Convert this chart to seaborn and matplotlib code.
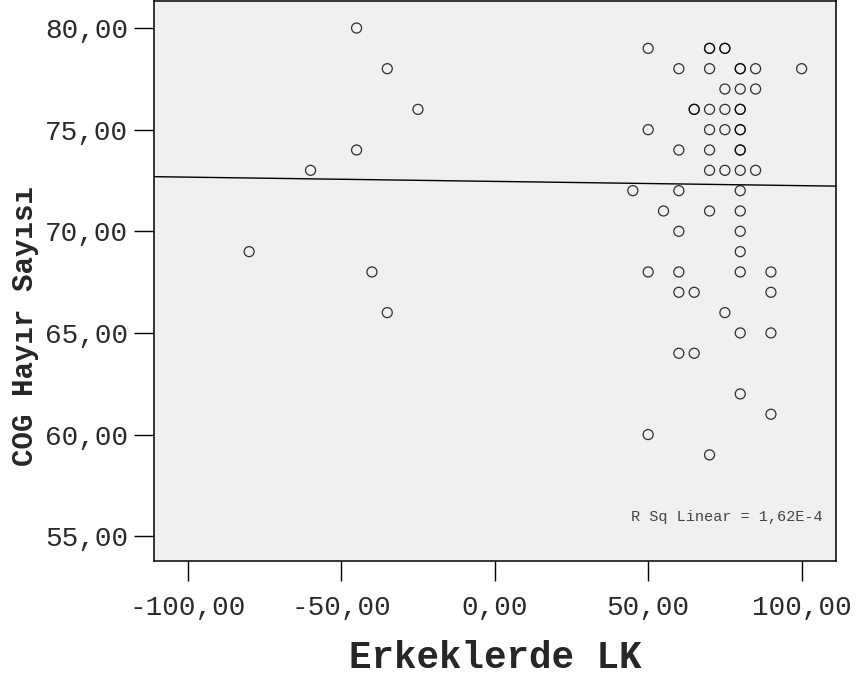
import matplotlib
matplotlib.use("Agg")
import matplotlib.pyplot as plt
import seaborn as sns
import pandas as pd

# Data
erkeklerde_lk = [-45, -35, -25, -45, -60, -80, -40, -35,
                 50, 70, 70, 75, 75,
                 60, 70, 80, 80, 85, 100,
                 75, 80, 85,
                 65, 65, 70, 75, 80, 80,
                 50, 70, 75, 80, 80,
                 60, 70, 80, 80,
                 70, 75, 80, 85,
                 45, 60, 80,
                 55, 70, 80,
                 60, 80,
                 80,
                 50, 60, 80, 90,
                 60, 65, 90,
                 75,
                 80, 90,
                 60, 65,
                 80,
                 90,
                 50,
                 70]
cog_hayir = [80, 78, 76, 74, 73, 69, 68, 66,
             79, 79, 79, 79, 79,
             78, 78, 78, 78, 78, 78,
             77, 77, 77,
             76, 76, 76, 76, 76, 76,
             75, 75, 75, 75, 75,
             74, 74, 74, 74,
             73, 73, 73, 73,
             72, 72, 72,
             71, 71, 71,
             70, 70,
             69,
             68, 68, 68, 68,
             67, 67, 67,
             66,
             65, 65,
             64, 64,
             62,
             61,
             60,
             59]
x_ticks = [-100, -50, 0, 50, 100]
y_ticks = [55, 60, 65, 70, 75, 80]
r_sq_text = "R Sq Linear = 1,62E-4"

df = pd.DataFrame({"Erkeklerde LK": erkeklerde_lk, "COG Hayır Sayısı": cog_hayir})

sns.set_theme(style="white")
plt.rcParams["font.family"] = ["Liberation Mono", "DejaVu Sans Mono"]

fig = plt.figure(figsize=(8.56, 6.77), dpi=100)
ax = fig.add_axes([154 / 856, 1 - 561 / 677, (836 - 154) / 856, 560 / 677])
ax.set_facecolor("#F0F0F0")
ax.set_xlim(-111, 111.2)
ax.set_ylim(53.78, 81.33)

sns.regplot(data=df, x="Erkeklerde LK", y="COG Hayır Sayısı", ax=ax, ci=None, truncate=False,
            scatter_kws=dict(s=52, facecolors="none", edgecolors="black", linewidths=0.9),
            line_kws=dict(color="black", lw=1.0), marker="o")

ax.set_xticks(x_ticks)
ax.set_yticks(y_ticks)
ax.set_xticklabels([f"{v:.2f}".replace(".", ",") for v in x_ticks])
ax.set_yticklabels([f"{v:.2f}".replace(".", ",") for v in y_ticks])
ax.tick_params(axis="both", which="major", direction="out", length=14.5, width=1.0,
               color="black", labelsize=20, labelcolor="#2a2a2a", left=True, bottom=True)
ax.tick_params(axis="x", pad=10)
ax.tick_params(axis="y", pad=4)
for s in ax.spines.values():
    s.set_color("black")
    s.set_linewidth(1.1)

ax.set_xlabel("Erkeklerde LK", fontsize=27, fontweight="bold")
ax.set_ylabel("COG Hayır Sayısı", fontsize=21, fontweight="bold")
ax.xaxis.set_label_coords(0.5, -0.173)
ax.xaxis.label.set_va("center")
ax.yaxis.set_label_coords(-0.189, 0.419)
ax.yaxis.label.set_va("center")
ax.text(0.981, 0.078, r_sq_text, transform=ax.transAxes, ha="right", va="center",
        fontsize=11, color="#444444")

fig.savefig("out.png", dpi=100, facecolor="white")
